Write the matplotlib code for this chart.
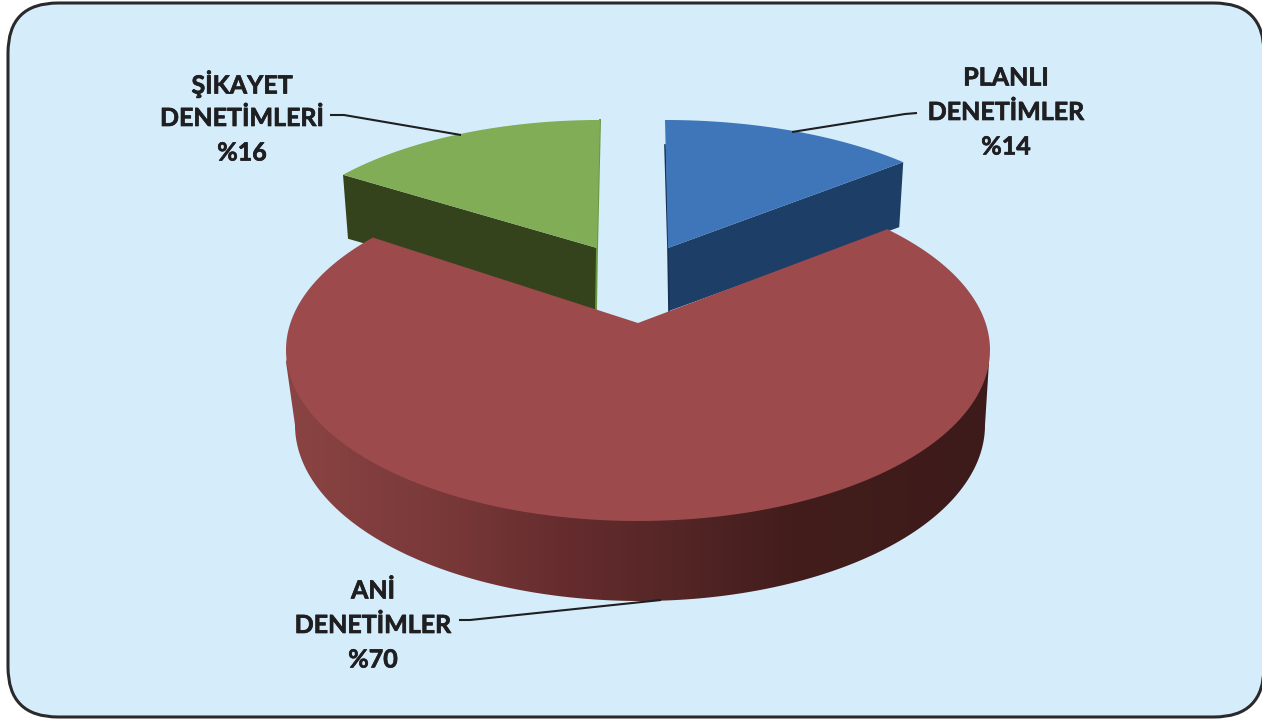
import numpy as np
import matplotlib
matplotlib.use("Agg")
import matplotlib.pyplot as plt
import matplotlib.patheffects as pe
from matplotlib.patches import FancyBboxPatch, Polygon
from matplotlib.colors import LinearSegmentedColormap

# ---- data ----
categories = ["PLANLI\nDENETİMLER", "ANİ\nDENETİMLER", "ŞİKAYET\nDENETİMLERİ"]
values = [14, 70, 16]

# ---- layout / style (pixels) ----
W, H = 1262, 720
BG = "#d5edfb"
RX, RY, CY = 352, 171, 350          # top-face ellipse
C = 27 / 171                        # perspective shift of the pie centre
top_colors = ["#3e76b9", "#9c4a4c", "#80ad56"]
dark_colors = ["#1d3e66", None, "#34431c"]
apexes = [(668, 248), (638, 323), (597, 248)]
scale_x = [0.975, 1.0, 0.945]
scale_y = [0.889, 1.0, 0.889]
shear = [-3, 0, 3]
twist = [0, -1.5, 0]
depth_outer = [(-4, 65), None, (5, 64)]
depth_inner = [(1, 63), None, (-1, 62)]
label_pos = [(1006, 78), (373, 591), (242, 84)]
LINE_PITCH = 34.5
leaders = [[(792, 132), (905, 114), (917, 113)],
           [(661, 600), (470, 620), (459, 620)],
           [(461, 135), (344, 115), (330, 115)]]
side_stops = [(0.0, "#8b4444"), (0.23, "#793838"), (0.40, "#652c2e"),
              (0.55, "#552626"), (0.72, "#421d1c"), (1.0, "#3d1b1a")]

plt.rcParams["font.family"] = ["Lato", "DejaVu Sans"]
fig = plt.figure(figsize=(W / 100, H / 100), dpi=100, facecolor="white")
ax = fig.add_axes([0, 0, 1, 1])
ax.set_xlim(0, W)
ax.set_ylim(H, 0)
ax.axis("off")

ax.add_patch(FancyBboxPatch((8, 3), 1256, 714,
                            boxstyle="round,pad=0,rounding_size=50",
                            fc=BG, ec="#2a2a2c", lw=2.2, zorder=0))


def disc_point(theta_deg, i):
    """Perspective projection of a point on the pie rim to the page."""
    t = np.radians(theta_deg)
    x, y = np.cos(t), np.sin(t)
    yp = (y + C) / (1 + C * y)
    xp = x * np.sqrt(1 - C * C) / (1 + C * y)
    ax0, ay0 = apexes[i]
    dy = (yp - C) * RY * scale_y[i]
    return ax0 + scale_x[i] * RX * xp + shear[i] * dy / 128, ay0 - dy


# slice angles from the values, clockwise from 12 o'clock
fracs = np.array(values, float) / sum(values)
edges = 90 - 360 * np.concatenate([[0], np.cumsum(fracs)])
tops = []
for i in range(len(values)):
    th = np.linspace(edges[i], edges[i + 1], 240) + twist[i]
    xs, ys = disc_point(th, i)
    tops.append(np.vstack([[apexes[i]], np.column_stack([xs, ys])]))

# cut faces of the two exploded back slices
bx, by = tops[0][-1]
ax.add_patch(Polygon([apexes[0], (bx, by),
                      (bx + depth_outer[0][0], by + depth_outer[0][1]),
                      (apexes[0][0] + depth_inner[0][0], apexes[0][1] + depth_inner[0][1])],
                     fc=dark_colors[0], ec="none", zorder=2))
gx, gy = tops[2][1]
ax.add_patch(Polygon([apexes[2], (gx, gy),
                      (gx + depth_outer[2][0], gy + depth_outer[2][1]),
                      (apexes[2][0] + depth_inner[2][0], apexes[2][1] + depth_inner[2][1])],
                     fc=dark_colors[2], ec="none", zorder=2))

# thin inner walls visible in the gap
ax.plot([665, 668, 669], [145, 248, 311], color="#173055", lw=1.2, zorder=2.5)
ax.plot([600, 597, 596], [120, 248, 310], color="#69953f", lw=1.4, zorder=2.5)

# top faces of back slices
for i in (0, 2):
    ax.add_patch(Polygon(tops[i], fc=top_colors[i], ec="none", zorder=3))

# side wall of the large slice with horizontal gradient
t = np.radians(np.linspace(0, 180, 300))
low = np.column_stack([640 + 345 * np.cos(t), 425 + 176 * np.sin(t)])
upp = np.column_stack([637.5 + 348 * np.cos(t), CY + (RY - 8) * np.sin(t)])
side = np.vstack([low, [(286, 362)], upp[::-1], [(989, 362)]])
side_poly = Polygon(side, fc="none", ec="none", transform=ax.transData)
ax.add_patch(side_poly)
cmap = LinearSegmentedColormap.from_list("side", side_stops)
im = ax.imshow(np.linspace(0, 1, 700)[None, :], cmap=cmap, vmin=0, vmax=1,
               extent=(285, 990, 610, 340), aspect="auto", zorder=4)
im.set_clip_path(side_poly)
ax.set_xlim(0, W)
ax.set_ylim(H, 0)

# top face of the large slice
ax.add_patch(Polygon(tops[1], fc=top_colors[1], ec="none", zorder=5))

# leader lines
for pts in leaders:
    p = np.array(pts)
    ax.plot(p[:, 0], p[:, 1], color="#1f1f21", lw=1.5, zorder=6,
            solid_capstyle="butt")

# labels
for name, val, (lx, ly) in zip(categories, values, label_pos):
    lines = name.split("\n") + [f"%{val}"]
    for k, s in enumerate(lines):
        ax.text(lx, ly + k * LINE_PITCH, s, ha="center", va="center",
                fontsize=18, fontweight="bold", color="#1f1f21", zorder=7,
                path_effects=[pe.withStroke(linewidth=0.5, foreground="#1f1f21")])

fig.savefig("out.png", dpi=100, facecolor="white")
